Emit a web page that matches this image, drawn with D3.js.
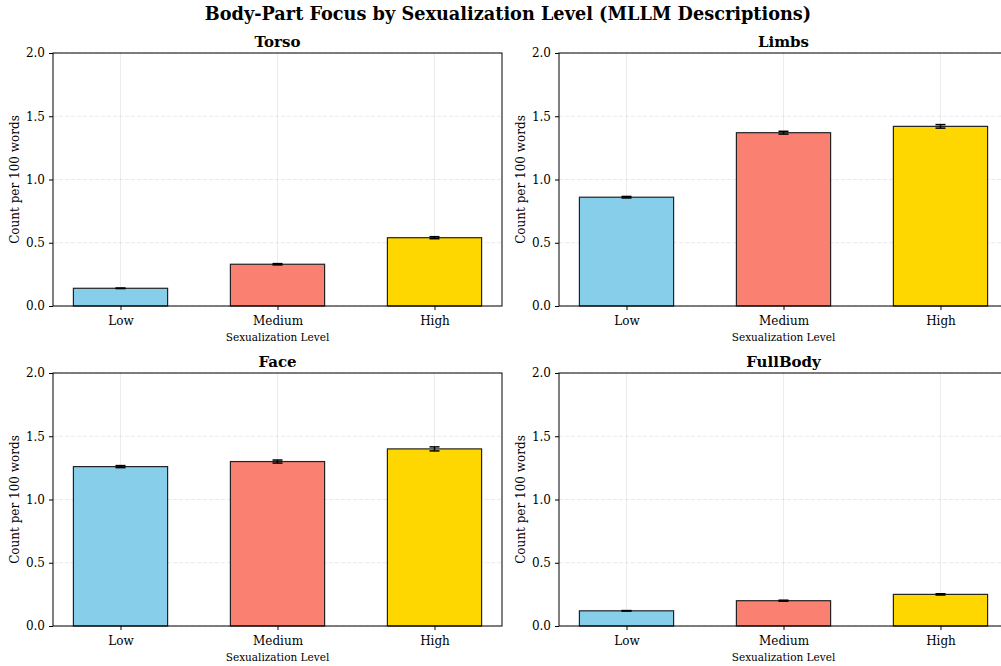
<!DOCTYPE html>
<html><head><meta charset="utf-8">
<script src="https://cdn.jsdelivr.net/npm/d3@7"></script>
<style>body{margin:0;background:#fff;overflow:hidden}svg{display:block;font-family:"DejaVu Serif",serif}</style>
</head><body>
<svg id="c" width="1001" height="666"></svg>
<script>
const categories = ["Low", "Medium", "High"];
const panels = ["Torso", "Limbs", "Face", "FullBody"];
const torsoValues = [0.14, 0.33, 0.54];
const torsoErrors = [0.002, 0.005, 0.008];
const limbsValues = [0.86, 1.37, 1.42];
const limbsErrors = [0.006, 0.011, 0.014];
const faceValues = [1.26, 1.30, 1.40];
const faceErrors = [0.008, 0.012, 0.016];
const fullBodyValues = [0.12, 0.20, 0.25];
const fullBodyErrors = [0.002, 0.004, 0.005];
const yTicks = [0, 0.5, 1.0, 1.5, 2.0];
const colors = ["#87CEEB", "#FA8072", "#FFD700"];

const values = [torsoValues, limbsValues, faceValues, fullBodyValues];
const errors = [torsoErrors, limbsErrors, faceErrors, fullBodyErrors];

const svg = d3.select("#c");
svg.append("text").attr("x", 508).attr("y", 20).attr("text-anchor", "middle")
  .attr("font-size", 17.7).attr("font-weight", "bold").text("Body-Part Focus by Sexualization Level (MLLM Descriptions)");

const boxes = [
  {x0: 53, x1: 502, y0: 53, y1: 306},
  {x0: 559, x1: 1008, y0: 53, y1: 306},
  {x0: 53, x1: 502, y0: 373, y1: 626},
  {x0: 559, x1: 1008, y0: 373, y1: 626}
];

panels.forEach((name, i) => {
  const b = boxes[i];
  const g = svg.append("g");
  const x = d3.scaleLinear().domain([-0.43, 2.43]).range([b.x0, b.x1]);
  const y = d3.scaleLinear().domain([0, 2]).range([b.y1, b.y0]);
  // grid
  g.selectAll(".hg").data(yTicks).enter().append("line")
    .attr("x1", b.x0).attr("x2", b.x1).attr("y1", d => y(d)).attr("y2", d => y(d))
    .attr("stroke", "#b0b0b0").attr("stroke-opacity", 0.35).attr("stroke-dasharray", "4,2").attr("stroke-width", 0.8);
  g.selectAll(".vg").data(categories).enter().append("line")
    .attr("x1", (d, j) => x(j)).attr("x2", (d, j) => x(j)).attr("y1", b.y0).attr("y2", b.y1)
    .attr("stroke", "#b0b0b0").attr("stroke-opacity", 0.3).attr("stroke-width", 0.8);
  // bars
  g.selectAll(".bar").data(values[i]).enter().append("rect")
    .attr("x", (d, j) => x(j - 0.3)).attr("width", (d, j) => x(j + 0.3) - x(j - 0.3))
    .attr("y", d => y(d)).attr("height", d => y(0) - y(d))
    .attr("fill", (d, j) => colors[j]).attr("stroke", "#222").attr("stroke-width", 1.2);
  // error bars
  values[i].forEach((v, j) => {
    const e = errors[i][j];
    const cx = x(j);
    g.append("line").attr("x1", cx).attr("x2", cx).attr("y1", y(v - e)).attr("y2", y(v + e))
      .attr("stroke", "#000").attr("stroke-width", 1.5);
    [v - e, v + e].forEach(t => g.append("line").attr("x1", cx - 5).attr("x2", cx + 5)
      .attr("y1", y(t)).attr("y2", y(t)).attr("stroke", "#000").attr("stroke-width", 1.5));
  });
  // frame
  g.append("rect").attr("x", b.x0).attr("y", b.y0).attr("width", b.x1 - b.x0).attr("height", b.y1 - b.y0)
    .attr("fill", "none").attr("stroke", "#000").attr("stroke-width", 1);
  // axes
  const xa = g.append("g").attr("transform", `translate(0,${b.y1})`)
    .call(d3.axisBottom(x).tickValues([0, 1, 2]).tickFormat(j => categories[j]).tickSize(4).tickPadding(6));
  xa.select(".domain").remove();
  xa.selectAll("text").attr("font-size", 12).attr("font-family", "DejaVu Serif").attr("fill", "#000");
  const ya = g.append("g").attr("transform", `translate(${b.x0},0)`)
    .call(d3.axisLeft(y).tickValues(yTicks).tickFormat(d3.format(".1f")).tickSize(4).tickPadding(4));
  ya.select(".domain").remove();
  ya.selectAll("text").attr("font-size", 12).attr("font-family", "DejaVu Serif").attr("fill", "#000");
  // labels
  g.append("text").attr("x", (b.x0 + b.x1) / 2).attr("y", b.y1 + 35).attr("text-anchor", "middle")
    .attr("font-size", 10.5).text("Sexualization Level");
  g.append("text").attr("transform", `translate(${b.x0 - 34},${(b.y0 + b.y1) / 2}) rotate(-90)`)
    .attr("text-anchor", "middle").attr("font-size", 12).text("Count per 100 words");
  g.append("text").attr("x", (b.x0 + b.x1) / 2).attr("y", b.y0 - 6).attr("text-anchor", "middle")
    .attr("font-size", 15).attr("font-weight", "bold").text(name);
});
</script>
</body></html>
